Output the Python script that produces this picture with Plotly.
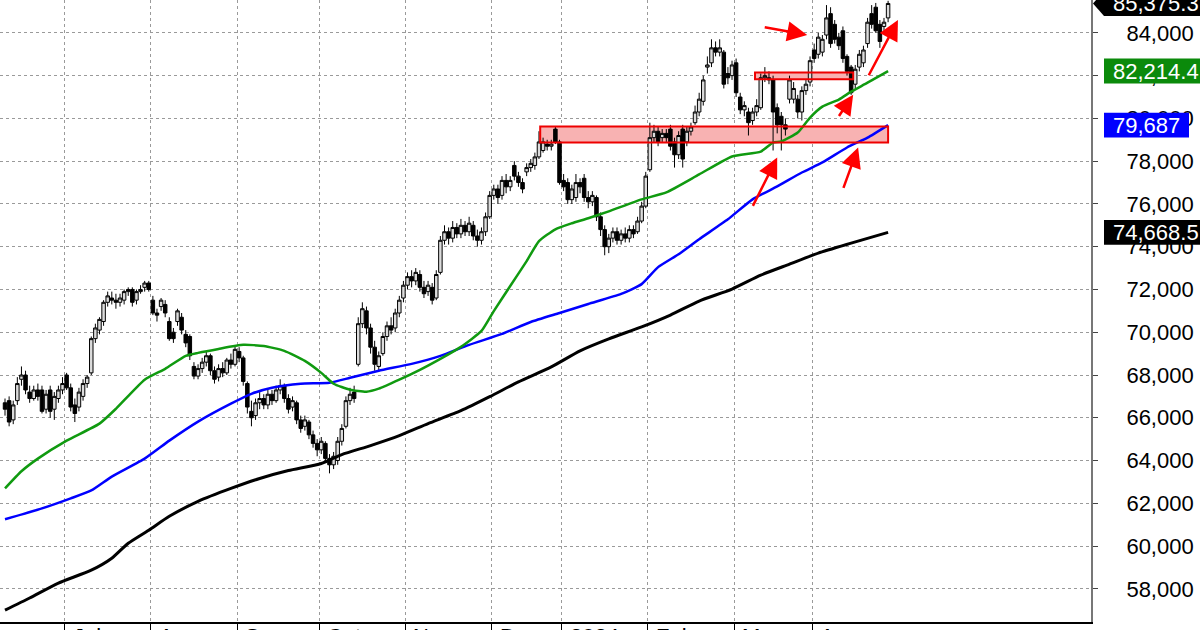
import plotly.graph_objects as go

# ---------------- data ----------------
opens = [
    66700, 66800, 65900, 66800, 67800, 68000, 67200, 66900, 67300, 67300,
    66400, 67300, 66400, 66900, 67300, 68000, 67400, 66600, 66500, 67000,
    67600, 68100, 69700, 70100, 70500, 71400, 71600, 71500, 71400, 71500,
    71900, 72000, 71500, 71900, 72100, 72300, 71500, 70900, 71200, 71300,
    70500, 70000, 70500, 70700, 69900, 69800, 68400, 67950, 68300, 68600,
    68900, 68200, 67900, 68300, 68100, 68700, 68500, 69100, 68800, 67600,
    66300, 66100, 66700, 66900, 66600, 67100, 66800, 67300, 67500, 66900,
    66500, 66700, 65900, 65600, 65800, 65200, 64800, 64500, 64800, 64100,
    63800, 64000, 64900, 65600, 66800, 67200, 68500, 70400, 71000, 70200,
    69300, 68400, 69000, 69800, 70300, 70200, 70900, 71600, 72200, 72600,
    72400, 72700, 72100, 71900, 72100, 71600, 72800, 74300, 74700, 74400,
    74900, 74600, 75000, 74700, 75000, 74500, 74300, 74700, 75400, 76400,
    76700, 76400, 77100, 76800, 77800, 77300, 77000, 77500, 77700, 77800,
    78200, 78500, 78800, 78700, 79500, 78900, 77100, 77000, 76200, 76300,
    77000, 77200, 76300, 76100, 76300, 75400, 74800, 74000, 74400, 74700,
    74300, 74600, 74400, 74800, 74700, 75200, 75900, 77600, 79100, 79400,
    79100, 79300, 79500, 78900, 78300, 79500, 78900, 79400, 79800, 80300,
    80800, 82400, 82600, 83300, 83100, 83100, 82100, 82000, 82600, 81000,
    80400, 80300, 79900, 80300, 80500, 81900, 81900, 81800, 80500, 80100,
    79700, 80900, 80900, 80900, 80300, 81300, 81700, 83200, 83000, 83100,
    83900, 84900, 84400, 83800, 84100, 82900, 82400, 81600, 82400, 82600,
    83500, 84900, 85200, 84400, 84300, 84700,
]
highs = [
    66900, 67000, 66800, 67900, 68400, 68200, 67500, 67500, 67600, 67500,
    67300, 67500, 67200, 67500, 67900, 68100, 67600, 66900, 67400, 67800,
    68000, 69800, 70400, 70700, 71500, 71900, 71900, 71800, 71800, 72000,
    72100, 72100, 72000, 72200, 72400, 72400, 71700, 71100, 71600, 71500,
    70700, 70200, 71100, 70900, 70100, 69900, 68600, 68500, 68800, 69100,
    69000, 68400, 68500, 68600, 68800, 69000, 69400, 69300, 68900, 67700,
    66800, 66900, 67200, 67100, 67300, 67300, 67500, 67800, 67600, 67100,
    67000, 66800, 66100, 66100, 65900, 65400, 65000, 65100, 64900, 64300,
    64400, 65100, 65700, 67000, 67400, 67500, 70700, 71400, 71200, 70400,
    69600, 69100, 70000, 70500, 70700, 71100, 71700, 72400, 72800, 72900,
    73000, 72900, 72400, 72400, 72300, 72900, 74500, 75000, 74900, 75200,
    75100, 75300, 75200, 75400, 75200, 74800, 74900, 75600, 76600, 76900,
    76900, 77300, 77400, 77300, 78000, 77500, 77200, 77900, 78100, 78400,
    79400, 79100, 79000, 79000, 79600, 79000, 77400, 77200, 76900, 77400,
    77200, 77400, 76600, 76600, 76400, 75600, 75000, 74600, 74900, 74900,
    74800, 74900, 75000, 75000, 75400, 76100, 77500, 79800, 79700, 79600,
    79500, 79500, 79700, 79100, 79400, 79700, 79600, 79800, 80600, 81200,
    82000, 82900, 83700, 83600, 83700, 83200, 82400, 82700, 82800, 81200,
    80800, 80500, 80500, 80900, 82100, 82400, 82200, 82000, 80700, 80300,
    80000, 82000, 81700, 81100, 81500, 81800, 82900, 83500, 84000, 83900,
    85300, 85200, 84600, 84000, 84300, 83000, 82500, 82500, 83200, 83400,
    84700, 85300, 85400, 84600, 84700, 85500,
]
lows = [
    66100, 65600, 65700, 66600, 67500, 67100, 66700, 66800, 66800, 66200,
    66200, 66000, 65900, 66700, 67100, 67300, 66300, 65800, 66300, 66800,
    67400, 68000, 69500, 69900, 70300, 71200, 71300, 71100, 71200, 71300,
    71700, 71200, 71300, 71800, 71900, 71900, 70800, 70500, 71000, 70700,
    69600, 69500, 70300, 69900, 69300, 68700, 67800, 67800, 68100, 68400,
    68000, 67600, 67700, 67900, 68000, 68300, 68400, 68600, 67500, 66200,
    65600, 65900, 66400, 66400, 66400, 66600, 66700, 67100, 66700, 66200,
    66300, 65700, 65300, 65400, 65000, 64600, 64200, 64300, 63900, 63400,
    63600, 63800, 64700, 65500, 66600, 66700, 68400, 70200, 69900, 69000,
    68200, 68200, 68900, 69600, 69900, 70000, 70700, 71400, 72000, 72100,
    72200, 71900, 71600, 71700, 71300, 71500, 72700, 74100, 74100, 74200,
    74400, 74400, 74500, 74500, 74300, 74000, 74100, 74500, 75300, 76200,
    76000, 76200, 76500, 76600, 77100, 76800, 76500, 77300, 77500, 77600,
    78100, 78400, 78500, 78500, 78800, 76900, 76600, 76000, 76000, 76100,
    76500, 76100, 75800, 75900, 75200, 74500, 73600, 73700, 74200, 74100,
    74100, 74200, 74200, 74400, 74600, 75100, 75800, 77500, 78900, 78700,
    78900, 78900, 78500, 77700, 78100, 77700, 78700, 79200, 79700, 80100,
    80600, 82100, 82400, 82900, 82900, 81400, 81600, 81800, 81000, 80200,
    80100, 79200, 79700, 80100, 80400, 81700, 81600, 78500, 79300, 78500,
    79200, 80700, 80700, 80000, 79900, 81100, 81500, 82600, 82800, 82900,
    83700, 83300, 83500, 83200, 82600, 82000, 81100, 81400, 82200, 82400,
    83300, 84200, 84000, 83300, 84100, 84500,
]
closes = [
    66400, 65800, 66600, 67600, 68000, 67300, 66900, 67300, 67000, 66300,
    67100, 66300, 67000, 67300, 67600, 67400, 66500, 66200, 67200, 67600,
    67900, 69700, 70200, 70600, 71400, 71700, 71500, 71400, 71600, 71900,
    72000, 71400, 71900, 72000, 72300, 72000, 70900, 70800, 71500, 70900,
    69700, 69700, 71000, 70100, 69500, 68900, 67950, 68300, 68600, 68900,
    68200, 67800, 68300, 68100, 68700, 68500, 69200, 68800, 67700, 66500,
    66000, 66700, 66900, 66600, 67100, 66800, 67300, 67500, 66900, 66400,
    66800, 65900, 65500, 65900, 65200, 64800, 64500, 64900, 64100, 63800,
    64200, 64900, 65500, 66800, 67100, 66900, 70400, 71100, 70200, 69300,
    68500, 68900, 69800, 70300, 70100, 70900, 71500, 72200, 72600, 72400,
    72800, 72100, 71800, 72200, 71500, 72700, 74300, 74700, 74400, 74900,
    74600, 75000, 74700, 75100, 74500, 74300, 74700, 75400, 76400, 76700,
    76300, 77100, 76800, 77100, 77300, 77000, 76700, 77700, 77900, 78200,
    78900, 78900, 78700, 78800, 78900, 77000, 76800, 76200, 76700, 77000,
    76800, 76300, 76100, 76400, 75400, 74800, 74000, 74400, 74700, 74300,
    74600, 74400, 74800, 74600, 75200, 75900, 77300, 79100, 79400, 78900,
    79300, 79100, 78700, 78300, 79200, 78100, 79400, 79600, 80300, 80900,
    81800, 82500, 83300, 83100, 83300, 81600, 81900, 82500, 81200, 80400,
    80600, 79800, 80300, 80600, 81900, 82000, 81800, 80300, 79700, 79700,
    79500, 81800, 81400, 80300, 81300, 81600, 82700, 82800, 83800, 83700,
    84700, 83500, 83700, 83400, 82800, 82200, 81200, 82300, 83000, 83200,
    84500, 84400, 84100, 83600, 84500, 85375.3,
]

# moving averages (sampled along the drawn lines; x = trading-day index)
ma_green_idx = [0, 4, 8, 15, 23, 27, 34, 39, 44, 47, 52, 58, 63, 68, 73, 77, 80, 84, 88, 91,
                96, 101, 106, 111, 116, 119, 123, 127, 130, 134, 138, 142, 147, 155, 161, 169,
                177, 184, 187, 189, 193, 196, 199, 203, 206, 210, 215]
ma_green = [62700, 63500, 64090, 64930, 65725, 66420, 67780, 68290, 68895, 69035,
            69220, 69410, 69360, 69130, 68660, 68100, 67590, 67310, 67220, 67360,
            67780, 68240, 68755, 69315, 70060, 70990, 72160, 73325, 74260, 74815,
            75095, 75330, 75655, 76215, 76540, 77380, 78220, 78450, 78870, 78920,
            79340, 80040, 80550, 80880, 81250, 81670, 82214.4]
ma_blue_idx = [0, 9, 16, 21, 26, 34, 40, 47, 55, 60, 65, 72, 79, 84, 91, 99, 106, 113, 121,
               128, 135, 142, 150, 155, 159, 164, 169, 176, 182, 188, 194, 199, 205, 210, 215]
ma_blue = [61250, 61760, 62230, 62600, 63250, 64090, 64930, 65820, 66660, 67120,
           67400, 67590, 67640, 67870, 68200, 68520, 68895, 69410, 69920, 70480,
           70900, 71320, 71790, 72250, 73045, 73650, 74350, 75280, 76215, 76820,
           77470, 77940, 78640, 79100, 79687]
ma_black_idx = [0, 6, 13, 21, 26, 30, 35, 40, 47, 55, 62, 69, 77, 82, 89, 96, 103, 111, 118,
                125, 133, 140, 147, 155, 162, 169, 177, 184, 191, 198, 206, 215]
ma_black = [57000, 57570, 58270, 58870, 59430, 60130, 60740, 61390, 62090, 62695,
            63160, 63530, 63860, 64280, 64700, 65165, 65725, 66330, 66985, 67680,
            68380, 69130, 69690, 70250, 70805, 71460, 72020, 72670, 73185, 73700,
            74165, 74668.5]

# month labels and the index of the first trading day of each month
month_labels = ["Jul", "Aug", "Sep", "Oct", "Nov", "Dec", "2024", "Feb", "Mar", "Apr"]
month_start_idx = [15, 36, 57, 77, 98, 119, 136, 157, 178, 197]

# highlighted zones: (start idx, end idx, low, high)
zones = [(130.3, 215.0, 78870, 79620), (182.6, 206.5, 81830, 82150)]
# arrows: (tail idx, tail value, head idx, head value)
arrows = [
    (184.6, 84280, 195.3, 83900),
    (181.9, 75840, 188.0, 78170),
    (202.8, 80040, 206.5, 81110),
    (204.0, 76680, 207.7, 78640),
    (210.1, 81950, 217.4, 84600),
]
last_labels = [("85,375.3", 85375.3, "black"), ("82,214.4", 82214.4, "#0b8a0b"),
               ("79,687", 79687, "#0000ff"), ("74,668.5", 74668.5, "black")]

# ---------------- figure ----------------
W, H = 1200, 630
ML, MR, MT, MB = 0, 109, 0, 6
PW, PH = W - ML - MR, H - MT - MB
y_min, y_max = 56448, 85538
x_min, x_max = -1.22, 264.4
FONT = "Liberation Sans, Arial, sans-serif"

fig = go.Figure()
fig.add_trace(go.Scatter(x=ma_black_idx, y=ma_black, mode="lines",
                         line=dict(color="black", width=3, shape="spline", smoothing=0.6),
                         hoverinfo="skip"))
fig.add_trace(go.Scatter(x=ma_blue_idx, y=ma_blue, mode="lines",
                         line=dict(color="#0000ff", width=2.5, shape="spline", smoothing=0.5),
                         hoverinfo="skip"))
fig.add_trace(go.Scatter(x=ma_green_idx, y=ma_green, mode="lines",
                         line=dict(color="#109a10", width=2.5, shape="spline", smoothing=0.5),
                         hoverinfo="skip"))
fig.add_trace(go.Candlestick(
    x=list(range(len(opens))), open=opens, high=highs, low=lows, close=closes,
    increasing=dict(line=dict(color="black", width=1), fillcolor="#dcdcdc"),
    decreasing=dict(line=dict(color="black", width=1), fillcolor="black"),
    whiskerwidth=0, hoverinfo="skip"))

shapes = []
for x0, x1, lo, hi in zones:
    shapes.append(dict(type="rect", xref="x", yref="y", x0=x0, x1=x1, y0=lo, y1=hi,
                       fillcolor="rgb(248,178,178)", line=dict(width=0), layer="between"))
    shapes.append(dict(type="rect", xref="x", yref="y", x0=x0, x1=x1, y0=lo, y1=hi,
                       fillcolor="rgba(0,0,0,0)", line=dict(color="#ee0000", width=2),
                       layer="above"))

units_per_px = (y_max - y_min) / PH
half_h = 12.5 * units_per_px
annotations = []
for text, val, col in last_labels:
    xl = 1104 / PW
    xr = (1200 if text != "79,687" else 1189) / PW
    if text == "85,375.3":
        tip = 1093 / PW
        path = (f"M {tip} {val} L {xl} {val + half_h} L {1.12} {val + half_h} "
                f"L {1.12} {val - half_h} L {xl} {val - half_h} Z")
        shapes.append(dict(type="path", xref="paper", yref="y", path=path,
                           fillcolor=col, line=dict(width=0), layer="above"))
    else:
        shapes.append(dict(type="rect", xref="paper", yref="y", x0=xl, x1=xr,
                           y0=val - half_h, y1=val + half_h,
                           fillcolor=col, line=dict(width=0), layer="above"))
    annotations.append(dict(xref="paper", yref="y", x=1111 / PW, y=val, text=text,
                            xanchor="left", yanchor="middle", showarrow=False,
                            font=dict(family=FONT, size=22, color="white")))

for tx, ty, hx, hy in arrows:
    annotations.append(dict(xref="x", yref="y", axref="x", ayref="y", x=hx, y=hy,
                            ax=tx, ay=ty, text="", showarrow=True, arrowhead=2,
                            arrowsize=1.6, arrowwidth=2.5, arrowcolor="#ff0000"))

for lab, si in zip(month_labels, month_start_idx):
    annotations.append(dict(xref="x", yref="paper", x=si - 0.5, y=0, text=lab,
                            xanchor="left", yanchor="top", xshift=7, yshift=-1,
                            showarrow=False, borderpad=0,
                            font=dict(family=FONT, size=22, color="black")))

fig.update_layout(
    width=W, height=H, margin=dict(l=ML, r=MR, t=MT, b=MB, pad=0),
    paper_bgcolor="white", plot_bgcolor="white", showlegend=False,
    boxgap=0.15, boxgroupgap=0,
    shapes=shapes, annotations=annotations,
    xaxis=dict(range=[x_min, x_max], rangeslider=dict(visible=False),
               tickmode="array", tickvals=[s - 0.5 for s in month_start_idx],
               showticklabels=False, ticks="outside", ticklen=8, tickcolor="black",
               showgrid=True, gridcolor="#9a9a9a", griddash="dot", gridwidth=1,
               showline=True, linecolor="black", linewidth=1.5, zeroline=False),
    yaxis=dict(side="right", range=[y_min, y_max], tick0=0, dtick=2000,
               tickformat=",d", ticks="outside", ticklen=5, tickcolor="#444",
               ticklabelstandoff=24,
               tickfont=dict(family=FONT, size=22, color="black"),
               showgrid=True, gridcolor="#9a9a9a", griddash="dot", gridwidth=1,
               showline=True, linecolor="#777", linewidth=2, zeroline=False),
)

fig.write_html("out.html", config={"displayModeBar": False},
               post_script="document.body.style.margin='0px';"
                           "document.body.style.overflow='hidden';")
